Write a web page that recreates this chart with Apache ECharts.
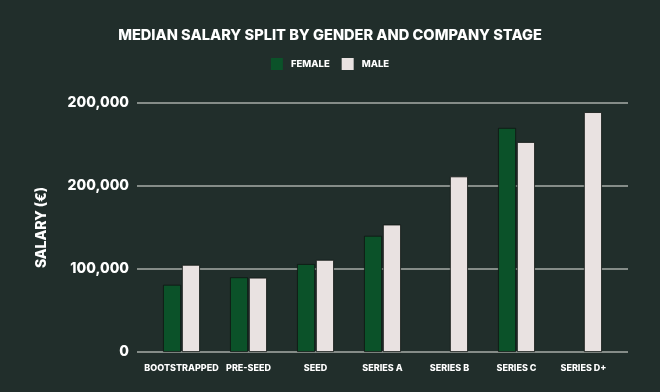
<!DOCTYPE html>
<html><head><meta charset="utf-8">
<script src="https://cdn.jsdelivr.net/npm/echarts@6/dist/echarts.min.js"></script>
<style>html,body{margin:0;padding:0;background:#212e2b;}#c{width:660px;height:392px;}</style>
</head><body><div id="c"></div>
<script>
const categories = ['BOOTSTRAPPED','PRE-SEED','SEED','SERIES A','SERIES B','SERIES C','SERIES D+'];
const female = [81000, 90000, 106000, 140000, null, 270000, null];
const male = [105000, 89500, 111000, 153500, 211500, 253000, 289000];
const yTickLabels = ['0','100,000','200,000','200,000'];

const FONT = 'Inter, "DejaVu Sans", sans-serif';
const chart = echarts.init(document.getElementById('c'));
chart.setOption({
  backgroundColor: '#212e2b',
  animation: false,
  title: {
    text: 'MEDIAN SALARY SPLIT BY GENDER AND COMPANY STAGE',
    left: 'center', top: 23,
    textStyle: {color: '#ffffff', fontFamily: FONT, fontWeight: 800, fontSize: 14.6}
  },
  legend: {
    top: 53, left: 'center', itemWidth: 12, itemHeight: 12, itemGap: 12,
    icon: 'rect',
    itemStyle: {borderWidth: 0},
    textStyle: {color: '#ffffff', fontFamily: FONT, fontWeight: 800, fontSize: 9.5, padding: [0, 0, 0, 3]},
    data: ['FEMALE','MALE']
  },
  grid: [
    {left: 137, right: 32, top: 103, bottom: 40, containLabel: false},
    {left: 148, right: 43, top: 103, bottom: 40, containLabel: false}
  ],
  xAxis: [
    {gridIndex: 0, type: 'category', data: categories, show: false},
    {gridIndex: 1, type: 'category', data: categories,
     axisLine: {show: false}, axisTick: {show: false},
     axisLabel: {color: '#ffffff', fontFamily: FONT, fontWeight: 800, fontSize: 9, margin: 12, interval: 0}}
  ],
  yAxis: [
    {gridIndex: 0, type: 'value', min: 0, max: 300000, interval: 100000,
     name: 'SALARY (€)', nameLocation: 'middle', nameGap: 88, nameRotate: 90,
     nameTextStyle: {color: '#ffffff', fontFamily: FONT, fontWeight: 800, fontSize: 14},
     axisLine: {show: false}, axisTick: {show: false},
     axisLabel: {color: '#ffffff', fontFamily: FONT, fontWeight: 800, fontSize: 14, margin: 8,
       formatter: (v, i) => yTickLabels[i]},
     splitLine: {show: true, lineStyle: {color: '#a7ada8', width: 1.5}}},
    {gridIndex: 1, type: 'value', min: 0, max: 300000, interval: 100000, show: false,
     splitLine: {show: false}}
  ],
  series: [
    {name: 'FEMALE', type: 'bar', xAxisIndex: 1, yAxisIndex: 1, data: female,
     barWidth: 18, barGap: '5%',
     itemStyle: {color: '#0b5229', borderColor: '#0f1412', borderWidth: 0.8}},
    {name: 'MALE', type: 'bar', xAxisIndex: 1, yAxisIndex: 1, data: male,
     barWidth: 18, barGap: '5%',
     itemStyle: {color: '#e9e2e1', borderColor: '#0f1412', borderWidth: 0.8}}
  ]
});
</script></body></html>
